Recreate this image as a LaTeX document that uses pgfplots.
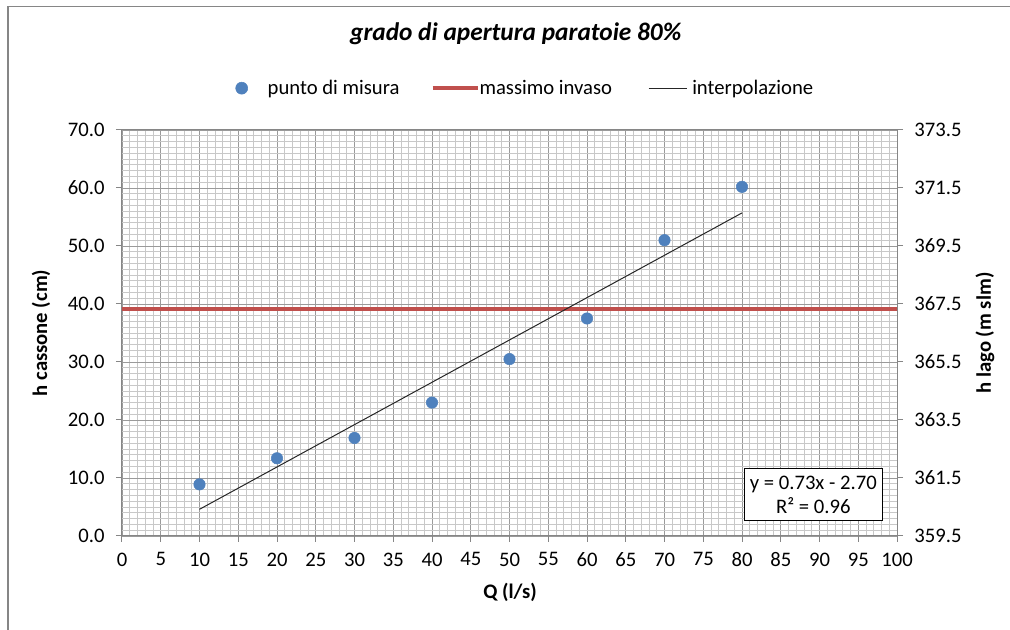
\documentclass[border=0pt]{standalone}
\usepackage{pgfplots}
\pgfplotsset{compat=1.18}
\usepackage{fontspec}
\setmainfont{Carlito}
\definecolor{pblue}{HTML}{4F81BD}
\definecolor{pred}{HTML}{C0504D}
\definecolor{gridmaj}{HTML}{9A9A9A}
\definecolor{gridmin}{HTML}{C8C8C8}
\definecolor{axgray}{HTML}{868686}

\begin{document}
\begin{tikzpicture}[x=1pt,y=1pt]
\path[use as bounding box] (-91.5,-70.5) rectangle (666,402);
% chart area frame (only left and top edges visible in the reference)
\draw[axgray, line width=1pt] (-85.5,-70.5) -- (-85.5,397) -- (666,397);

\begin{axis}[
    at={(0,0)}, anchor=south west,
    scale only axis, width=581.25pt, height=304.5pt,
    xmin=0, xmax=100, ymin=0, ymax=70,
    xtick={0,5,...,100}, ytick={0,10,...,70},
    minor x tick num=4, minor y tick num=9,
    grid=both,
    major grid style={gridmaj, line width=0.6pt},
    minor grid style={gridmin, line width=0.6pt},
    minor tick length=0pt, major tick length=4.5pt,
    tick align=outside, xtick pos=bottom, ytick pos=left,
    axis line style={axgray, line width=0.75pt},
    tick style={axgray, line width=0.75pt},
    ticklabel style={font=\fontsize{15.5}{17}\selectfont},
    xticklabel style={yshift=-4.5pt},
    yticklabel style={xshift=-5pt, /pgf/number format/.cd, fixed, fixed zerofill, precision=1},
    /pgf/number format/assume math mode=true,
    xlabel={\textbf{Q (l/s)}},
    ylabel={\textbf{h cassone (cm)}},
    every axis x label/.style={at={(axis description cs:0.5006,-0.140)}, anchor=center, font=\fontsize{15.5}{17}\selectfont},
    every axis y label/.style={at={(axis description cs:-0.1045,0.5)}, rotate=90, anchor=center, font=\fontsize{15.5}{17}\selectfont},
    title={\textbf{\itshape grado di apertura paratoie 80\%}},
    every axis title/.style={at={(axis description cs:0.508,1.236)}, anchor=center, font=\fontsize{19}{21}\selectfont},
    legend columns=3,
    legend style={at={(axis description cs:0.518,1.103)}, anchor=center, draw=none, fill=none,
        font=\fontsize{15.5}{17}\selectfont, column sep=0pt, nodes={inner sep=0pt},
        /tikz/column 2/.style={column sep=23.25pt},
        /tikz/column 4/.style={column sep=27pt}},
    legend cell align=left,
]
\addplot[only marks, mark=*, mark size=4.3pt, mark options={draw=pblue, fill=pblue},
    legend image code/.code={\fill[pblue] (6pt,0pt) circle (4.5pt);\path[draw=none] (0pt,0pt) -- (25.5pt,0pt);}]
  coordinates {(10,8.9) (20,13.4) (30,16.9) (40,23.0) (50,30.5) (60,37.5) (70,51.0) (80,60.2)};
\addlegendentry{punto di misura}
\addplot[pred, line width=3pt, forget plot] coordinates {(0,39.1) (100,39.1)};
\addlegendimage{legend image code/.code={\draw[pred, line width=3pt] (0pt,0pt) -- (33.75pt,0pt);\path[draw=none] (0pt,0pt) -- (35.25pt,0pt);}}
\addlegendentry{massimo invaso}
\addplot[black!85, line width=0.75pt,
    legend image code/.code={\draw[black!85, line width=0.75pt] (0pt,0pt) -- (29pt,0pt);\path[draw=none] (0pt,0pt) -- (32.75pt,0pt);}]
  coordinates {(10,4.6) (80,55.7)};
\addlegendentry{interpolazione}
\node[draw=black, line width=0.75pt, fill=white, align=center, inner xsep=4pt, inner ysep=5.5pt,
      font=\fontsize{15.5}{18}\selectfont] at (axis cs:89.2,7.1)
  {y = 0.73x - 2.70\\R² = 0.96};
\end{axis}

\begin{axis}[
    at={(0,0)}, anchor=south west,
    scale only axis, width=581.25pt, height=304.5pt,
    xmin=0, xmax=100, ymin=359.5, ymax=373.5,
    axis x line=none, axis y line*=right,
    ytick={359.5,361.5,363.5,365.5,367.5,369.5,371.5,373.5},
    tick align=outside, major tick length=4.5pt,
    axis line style={axgray, line width=0.75pt},
    tick style={axgray, line width=0.75pt},
    ticklabel style={font=\fontsize{15.5}{17}\selectfont},
    /pgf/number format/assume math mode=true,
    yticklabel style={xshift=5pt, /pgf/number format/.cd, fixed, fixed zerofill, precision=1},
    ylabel={\textbf{h lago (m slm)}},
    every axis y label/.style={at={(axis description cs:1.1135,0.5)}, rotate=90, anchor=center, font=\fontsize{15.5}{17}\selectfont},
]
\end{axis}
\end{tikzpicture}
\end{document}
